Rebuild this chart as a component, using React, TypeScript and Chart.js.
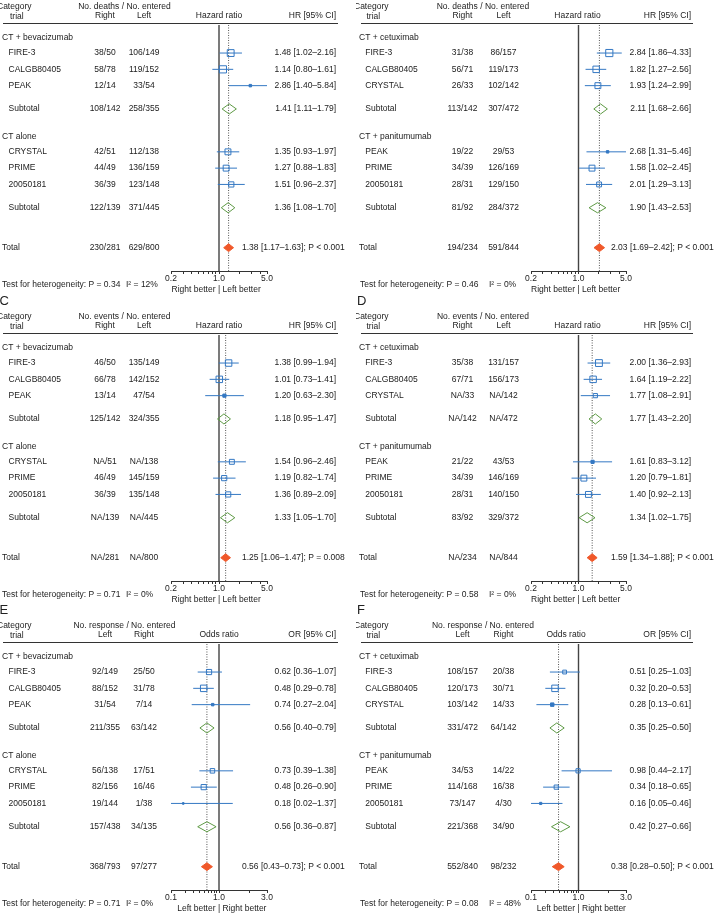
import React, { useEffect, useRef } from 'react';
import { Chart, registerables, LogarithmicScale } from 'chart.js';

Chart.register(...registerables);

// ---------- custom split-log scale (1.0 in the middle of the axis) ----------
class SplitLogScale extends (LogarithmicScale as any) {
  static id = 'splitlog';
  static defaults = {};
  getPixelForValue(value: any) {
    if (value === undefined || value === null || isNaN(value)) return NaN;
    const lmin = Math.log10(this.min);
    const lmax = Math.log10(this.max);
    const l = Math.log10(Math.max(value, 1e-6));
    const dec = l <= 0 ? (0.5 * (l - lmin)) / -lmin : 0.5 + (0.5 * l) / lmax;
    return this.getPixelForDecimal(dec);
  }
  getValueForPixel(pixel: number) {
    const dec = this.getDecimalForPixel(pixel);
    const lmin = Math.log10(this.min);
    const lmax = Math.log10(this.max);
    const l = dec <= 0.5 ? lmin * (1 - 2 * dec) : (2 * dec - 1) * lmax;
    return Math.pow(10, l);
  }
}
Chart.register(SplitLogScale as any);

// ---------------------------- DATA ----------------------------
const bevTrials = ['FIRE-3', 'CALGB80405', 'PEAK', 'CRYSTAL', 'PRIME', '20050181'];
const egfrTrials = ['FIRE-3', 'CALGB80405', 'CRYSTAL', 'PEAK', 'PRIME', '20050181'];
const bevGroups = ['CT + bevacizumab', 'CT alone'];
const egfrGroups = ['CT + cetuximab', 'CT + panitumumab'];

const hrMajorTicks = [0.2, 1, 5];
const hrMinorTicks = [0.3, 0.4, 0.5, 0.6, 0.7, 0.8, 0.9, 2, 3, 4];
const orMajorTicks = [0.1, 1, 3];
const orMinorTicks = [0.2, 0.3, 0.4, 0.5, 0.6, 0.7, 0.8, 0.9, 2];

// Panel A
const aCol1 = ['38/50', '58/78', '12/14', '42/51', '44/49', '36/39'];
const aCol2 = ['106/149', '119/152', '33/54', '112/138', '136/159', '123/148'];
const aEst = [1.48, 1.14, 2.86, 1.35, 1.27, 1.51];
const aLow = [1.02, 0.8, 1.4, 0.93, 0.88, 0.96];
const aHigh = [2.16, 1.61, 5.84, 1.97, 1.83, 2.37];
const aWeight = [11, 12, 2, 8.5, 8.5, 6.8];
const aSubCol1 = ['108/142', '122/139'];
const aSubCol2 = ['258/355', '371/445'];
const aSubEst = [1.41, 1.36];
const aSubLow = [1.11, 1.08];
const aSubHigh = [1.79, 1.7];
const aTotal = [1.38, 1.17, 1.63];
const aTotalCounts = ['230/281', '629/800'];
const aTotalP = 'P < 0.001';
const aHet = [0.34, 12];

// Panel B
const bCol1 = ['31/38', '56/71', '26/33', '19/22', '34/39', '28/31'];
const bCol2 = ['86/157', '119/173', '102/142', '29/53', '126/169', '129/150'];
const bEst = [2.84, 1.82, 1.93, 2.68, 1.58, 2.01];
const bLow = [1.86, 1.27, 1.24, 1.31, 1.02, 1.29];
const bHigh = [4.33, 2.56, 2.99, 5.46, 2.45, 3.13];
const bWeight = [12, 10, 8.5, 2, 8.5, 6.1];
const bSubCol1 = ['113/142', '81/92'];
const bSubCol2 = ['307/472', '284/372'];
const bSubEst = [2.11, 1.9];
const bSubLow = [1.68, 1.43];
const bSubHigh = [2.66, 2.53];
const bTotal = [2.03, 1.69, 2.42];
const bTotalCounts = ['194/234', '591/844'];
const bTotalP = 'P < 0.001';
const bHet = [0.46, 0];

// Panel C
const cCol1 = ['46/50', '66/78', '13/14', 'NA/51', '46/49', '36/39'];
const cCol2 = ['135/149', '142/152', '47/54', 'NA/138', '145/159', '135/148'];
const cEst = [1.38, 1.01, 1.2, 1.54, 1.19, 1.36];
const cLow = [0.99, 0.73, 0.63, 0.96, 0.82, 0.89];
const cHigh = [1.94, 1.41, 2.3, 2.46, 1.74, 2.09];
const cWeight = [10, 10, 3, 6.2, 6.8, 6.8];
const cSubCol1 = ['125/142', 'NA/139'];
const cSubCol2 = ['324/355', 'NA/445'];
const cSubEst = [1.18, 1.33];
const cSubLow = [0.95, 1.05];
const cSubHigh = [1.47, 1.7];
const cTotal = [1.25, 1.06, 1.47];
const cTotalCounts = ['NA/281', 'NA/800'];
const cTotalP = 'P = 0.008';
const cHet = [0.71, 0];

// Panel D
const dCol1 = ['35/38', '67/71', 'NA/33', '21/22', '34/39', '28/31'];
const dCol2 = ['131/157', '156/173', 'NA/142', '43/53', '146/169', '140/150'];
const dEst = [2.0, 1.64, 1.77, 1.61, 1.2, 1.4];
const dLow = [1.36, 1.19, 1.08, 0.83, 0.79, 0.92];
const dHigh = [2.93, 2.22, 2.91, 3.12, 1.81, 2.13];
const dWeight = [11, 10, 4.7, 3, 8.5, 8.5];
const dSubCol1 = ['NA/142', '83/92'];
const dSubCol2 = ['NA/472', '329/372'];
const dSubEst = [1.77, 1.34];
const dSubLow = [1.43, 1.02];
const dSubHigh = [2.2, 1.75];
const dTotal = [1.59, 1.34, 1.88];
const dTotalCounts = ['NA/234', 'NA/844'];
const dTotalP = 'P < 0.001';
const dHet = [0.58, 0];

// Panel E
const eCol1 = ['92/149', '88/152', '31/54', '56/138', '82/156', '19/144'];
const eCol2 = ['25/50', '31/78', '7/14', '17/51', '16/46', '1/38'];
const eEst = [0.62, 0.48, 0.74, 0.73, 0.48, 0.18];
const eLow = [0.36, 0.29, 0.27, 0.39, 0.26, 0.02];
const eHigh = [1.07, 0.78, 2.04, 1.38, 0.9, 1.37];
const eWeight = [6.8, 10, 2, 5.3, 6.8, 1.1];
const eSubCol1 = ['211/355', '157/438'];
const eSubCol2 = ['63/142', '34/135'];
const eSubEst = [0.56, 0.56];
const eSubLow = [0.4, 0.36];
const eSubHigh = [0.79, 0.87];
const eTotal = [0.56, 0.43, 0.73];
const eTotalCounts = ['368/793', '97/277'];
const eTotalP = 'P < 0.001';
const eHet = [0.71, 0];

// Panel F
const fCol1 = ['108/157', '120/173', '103/142', '34/53', '114/168', '73/147'];
const fCol2 = ['20/38', '30/71', '14/33', '14/22', '16/38', '4/30'];
const fEst = [0.51, 0.32, 0.28, 0.98, 0.34, 0.16];
const fLow = [0.25, 0.2, 0.13, 0.44, 0.18, 0.05];
const fHigh = [1.03, 0.53, 0.61, 2.17, 0.65, 0.46];
const fWeight = [4, 10, 3.4, 4.7, 4.7, 1.7];
const fSubCol1 = ['331/472', '221/368'];
const fSubCol2 = ['64/142', '34/90'];
const fSubEst = [0.35, 0.42];
const fSubLow = [0.25, 0.27];
const fSubHigh = [0.5, 0.66];
const fTotal = [0.38, 0.28, 0.5];
const fTotalCounts = ['552/840', '98/232'];
const fTotalP = 'P < 0.001';
const fHet = [0.08, 48];

// ---------------------------- STYLE / LAYOUT ----------------------------
const FONT_FAMILY = '"Liberation Sans", Arial, Helvetica, sans-serif';
const FS = 8.5;
const TEXT = '#222222';
const BLUE = '#3478c3';
const GREEN = '#5e9a45';
const ORANGE = '#f0582a';
const AXIS = '#333333';

const CANVAS_H = 312;
const PANEL_TOPS = [-16, 294, 603];
const GEOS = [
  { x: 0, w: 357, plotL: 171, plotR: 267, catX: -3, trialHX: 10, groupX: 2, trialX: 8.5, c1: 105, c2: 144, hrRight: 336, ruleL: 3, ruleR: 338, totalTextX: 242, hetX: 2, i2X: 126, letterX: -0.5 },
  { x: 356, w: 362, plotL: 175, plotR: 270, catX: -2, trialHX: 10.5, groupX: 3, trialX: 9.3, c1: 106.5, c2: 147.5, hrRight: 335, ruleL: 5, ruleR: 337, totalTextX: 255, hetX: 4, i2X: 133, letterX: 1 },
];

const ROW = { head: 0.79, toTrial: 0.93, step: 1, toSub: 1.43, toNextGroup: 1.7, toTotal: 2.45, toAxis: 1.43 };

function layoutRows(nGroups: number, perGroup: number) {
  const groups: number[] = [];
  const trials: number[] = [];
  const subs: number[] = [];
  let y = ROW.head;
  for (let g = 0; g < nGroups; g++) {
    groups.push(y);
    y += ROW.toTrial;
    for (let t = 0; t < perGroup; t++) {
      trials.push(y);
      if (t < perGroup - 1) y += ROW.step;
    }
    y += ROW.toSub;
    subs.push(y);
    if (g < nGroups - 1) y += ROW.toNextGroup;
  }
  const total = y + ROW.toTotal;
  return { groups, trials, subs, total, max: total + ROW.toAxis };
}

const HR_HEAD = { measure: 'Hazard ratio', ci: 'HR [95% CI]', foot: ['Right better', 'Left better'], majors: hrMajorTicks, minors: hrMinorTicks };
const OR_HEAD = { measure: 'Odds ratio', ci: 'OR [95% CI]', foot: ['Left better', 'Right better'], majors: orMajorTicks, minors: orMinorTicks };

const panels = [
  { letter: 'A', row: 0, col: 0, head: HR_HEAD, countHead: 'No. deaths / No. entered', colHeads: ['Right', 'Left'], groups: bevGroups, trials: bevTrials, c1: aCol1, c2: aCol2, est: aEst, lo: aLow, hi: aHigh, w: aWeight, sc1: aSubCol1, sc2: aSubCol2, sEst: aSubEst, sLo: aSubLow, sHi: aSubHigh, total: aTotal, tc: aTotalCounts, tp: aTotalP, het: aHet, headShift: 0 },
  { letter: 'B', row: 0, col: 1, head: HR_HEAD, countHead: 'No. deaths / No. entered', colHeads: ['Right', 'Left'], groups: egfrGroups, trials: egfrTrials, c1: bCol1, c2: bCol2, est: bEst, lo: bLow, hi: bHigh, w: bWeight, sc1: bSubCol1, sc2: bSubCol2, sEst: bSubEst, sLo: bSubLow, sHi: bSubHigh, total: bTotal, tc: bTotalCounts, tp: bTotalP, het: bHet, headShift: -1 },
  { letter: 'C', row: 1, col: 0, head: HR_HEAD, countHead: 'No. events / No. entered', colHeads: ['Right', 'Left'], groups: bevGroups, trials: bevTrials, c1: cCol1, c2: cCol2, est: cEst, lo: cLow, hi: cHigh, w: cWeight, sc1: cSubCol1, sc2: cSubCol2, sEst: cSubEst, sLo: cSubLow, sHi: cSubHigh, total: cTotal, tc: cTotalCounts, tp: cTotalP, het: cHet, headShift: 0 },
  { letter: 'D', row: 1, col: 1, head: HR_HEAD, countHead: 'No. events / No. entered', colHeads: ['Right', 'Left'], groups: egfrGroups, trials: egfrTrials, c1: dCol1, c2: dCol2, est: dEst, lo: dLow, hi: dHigh, w: dWeight, sc1: dSubCol1, sc2: dSubCol2, sEst: dSubEst, sLo: dSubLow, sHi: dSubHigh, total: dTotal, tc: dTotalCounts, tp: dTotalP, het: dHet, headShift: -1 },
  { letter: 'E', row: 2, col: 0, head: OR_HEAD, countHead: 'No. response / No. entered', colHeads: ['Left', 'Right'], groups: bevGroups, trials: bevTrials, c1: eCol1, c2: eCol2, est: eEst, lo: eLow, hi: eHigh, w: eWeight, sc1: eSubCol1, sc2: eSubCol2, sEst: eSubEst, sLo: eSubLow, sHi: eSubHigh, total: eTotal, tc: eTotalCounts, tp: eTotalP, het: eHet, headShift: 0 },
  { letter: 'F', row: 2, col: 1, head: OR_HEAD, countHead: 'No. response / No. entered', colHeads: ['Left', 'Right'], groups: egfrGroups, trials: egfrTrials, c1: fCol1, c2: fCol2, est: fEst, lo: fLow, hi: fHigh, w: fWeight, sc1: fSubCol1, sc2: fSubCol2, sEst: fSubEst, sLo: fSubLow, sHi: fSubHigh, total: fTotal, tc: fTotalCounts, tp: fTotalP, het: fHet, headShift: -12.5 },
];

const ciText = (e: number, l: number, h: number) => `${e.toFixed(2)} [${l.toFixed(2)}\u2013${h.toFixed(2)}]`;
const font = (s: number = FS) => `${s}px ${FONT_FAMILY}`;

function makeTextPlugin(p: any, geo: any, rows: any) {
  return {
    id: 'forestText',
    afterDraw(chart: any) {
      const ctx = chart.ctx as CanvasRenderingContext2D;
      const xs = chart.scales.x;
      const ys = chart.scales.y;
      const put = (t: string, px: number, py: number, align: CanvasTextAlign = 'left') => {
        ctx.textAlign = align;
        ctx.fillText(t, px, py);
      };
      ctx.save();
      ctx.fillStyle = TEXT;
      ctx.textBaseline = 'middle';
      ctx.font = font(13);
      put(p.letter, geo.letterX, 7);
      ctx.font = font();
      const xOne = xs.getPixelForValue(1);
      // header
      put('Category', geo.catX, 22.7);
      put('trial', geo.trialHX, 32.7);
      put(p.countHead, (geo.c1 + geo.c2) / 2, 22.7, 'center');
      put(p.colHeads[0], geo.c1, 31.7, 'center');
      put(p.colHeads[1], geo.c2, 31.7, 'center');
      put(p.head.measure, xOne + p.headShift, 31.7, 'center');
      put(p.head.ci, geo.hrRight, 31.7, 'right');
      ctx.strokeStyle = AXIS;
      ctx.lineWidth = 1;
      ctx.beginPath();
      ctx.moveTo(geo.ruleL, 39.5);
      ctx.lineTo(geo.ruleR, 39.5);
      ctx.stroke();
      // groups
      rows.groups.forEach((gy: number, gi: number) => put(p.groups[gi], geo.groupX, ys.getPixelForValue(gy)));
      // trials
      rows.trials.forEach((ty: number, i: number) => {
        const py = ys.getPixelForValue(ty);
        put(p.trials[i], geo.trialX, py);
        put(p.c1[i], geo.c1, py, 'center');
        put(p.c2[i], geo.c2, py, 'center');
        put(ciText(p.est[i], p.lo[i], p.hi[i]), geo.hrRight, py, 'right');
      });
      // subtotals
      rows.subs.forEach((sy: number, i: number) => {
        const py = ys.getPixelForValue(sy);
        put('Subtotal', geo.trialX, py);
        put(p.sc1[i], geo.c1, py, 'center');
        put(p.sc2[i], geo.c2, py, 'center');
        put(ciText(p.sEst[i], p.sLo[i], p.sHi[i]), geo.hrRight, py, 'right');
      });
      // total
      const tpy = ys.getPixelForValue(rows.total);
      put('Total', geo.groupX, tpy);
      put(p.tc[0], geo.c1, tpy, 'center');
      put(p.tc[1], geo.c2, tpy, 'center');
      put(`${ciText(p.total[0], p.total[1], p.total[2])}; ${p.tp}`, geo.totalTextX, tpy);
      // heterogeneity
      put(`Test for heterogeneity: P = ${p.het[0].toFixed(2)}`, geo.hetX, 300.5);
      put(`I\u00B2 = ${p.het[1]}%`, geo.i2X, 300.5);
      // footer
      put(p.head.foot[0], xOne - 3.5, 306, 'right');
      put('|', xOne, 306, 'center');
      put(p.head.foot[1], xOne + 3.5, 306, 'left');
      ctx.restore();
    },
  };
}

function buildConfig(p: any) {
  const geo = GEOS[p.col];
  const rows = layoutRows(p.groups.length, p.trials.length / p.groups.length);
  const majors: number[] = p.head.majors;
  const allTicks = [...majors, ...p.head.minors].sort((a, b) => a - b);
  const datasets: any[] = [];
  // reference lines
  datasets.push({ data: [{ x: 1, y: 0 }, { x: 1, y: rows.max }], borderColor: '#444444', borderWidth: 1.4, pointRadius: 0, order: 30 });
  datasets.push({ data: [{ x: p.total[0], y: 0 }, { x: p.total[0], y: rows.max }], borderColor: '#555555', borderWidth: 1, borderDash: [1, 1.5], pointRadius: 0, order: 29 });
  // CI lines
  rows.trials.forEach((ty: number, i: number) => {
    datasets.push({ data: [{ x: p.lo[i], y: ty }, { x: p.hi[i], y: ty }], borderColor: BLUE, borderWidth: 1, pointRadius: 0, order: 20 });
  });
  // boxes
  const sides = p.w.map((w: number) => 2.3 * Math.sqrt(w) - 0.8);
  datasets.push({
    data: rows.trials.map((ty: number, i: number) => ({ x: p.est[i], y: ty })),
    showLine: false,
    pointStyle: 'rect',
    pointRadius: (c: any) => Math.max(sides[c.dataIndex], 1.6) * Math.SQRT1_2,
    pointBackgroundColor: (c: any) => (sides[c.dataIndex] < 3.6 ? BLUE : 'rgba(255,255,255,0)'),
    pointBorderColor: BLUE,
    pointBorderWidth: 1,
    order: 10,
  });
  // subtotal diamonds
  const sh = 0.31;
  rows.subs.forEach((sy: number, i: number) => {
    datasets.push({
      data: [
        { x: p.sLo[i], y: sy },
        { x: p.sEst[i], y: sy - sh },
        { x: p.sHi[i], y: sy },
        { x: p.sEst[i], y: sy + sh },
        { x: p.sLo[i], y: sy },
      ],
      borderColor: GREEN,
      borderWidth: 1,
      fill: false,
      tension: 0,
      borderJoinStyle: 'miter',
      pointRadius: 0,
      order: 5,
    });
  });
  // total diamond
  const th = 0.24;
  datasets.push({
    data: [
      { x: p.total[1], y: rows.total },
      { x: p.total[0], y: rows.total - th },
      { x: p.total[2], y: rows.total },
      { x: p.total[0], y: rows.total + th },
      { x: p.total[1], y: rows.total },
    ],
    borderColor: ORANGE,
    backgroundColor: ORANGE,
    borderWidth: 1,
    fill: 'shape',
    tension: 0,
    borderJoinStyle: 'miter',
    pointRadius: 0,
    order: 2,
  });

  return {
    type: 'line',
    data: { datasets },
    options: {
      responsive: false,
      animation: false,
      events: [],
      layout: { padding: { left: geo.plotL, right: geo.w - geo.plotR, top: 41, bottom: 5 } },
      plugins: { legend: { display: false }, tooltip: { enabled: false } },
      scales: {
        x: {
          type: 'splitlog',
          min: majors[0],
          max: majors[majors.length - 1],
          afterBuildTicks: (s: any) => {
            s.ticks = allTicks.map((v) => ({ value: v }));
          },
          afterFit: (s: any) => {
            s.height = 20;
          },
          ticks: {
            autoSkip: false,
            maxRotation: 0,
            minRotation: 0,
            padding: 0,
            color: TEXT,
            font: { family: FONT_FAMILY, size: FS, lineHeight: 1 },
            callback: (v: any) => (majors.indexOf(Number(v)) >= 0 ? Number(v).toFixed(1) : ''),
          },
          grid: { display: true, drawOnChartArea: false, drawTicks: true, tickLength: 3, color: AXIS, lineWidth: 1 },
          border: { display: true, color: AXIS, width: 1 },
        },
        y: { type: 'linear', display: false, reverse: true, min: 0, max: rows.max },
      },
    },
    plugins: [makeTextPlugin(p, geo, rows)],
  };
}

function ForestPanel({ p }: { p: any }) {
  const ref = useRef<HTMLCanvasElement>(null);
  const geo = GEOS[p.col];
  useEffect(() => {
    const chart = new Chart(ref.current as HTMLCanvasElement, buildConfig(p) as any);
    return () => chart.destroy();
  }, [p]);
  return (
    <canvas
      ref={ref}
      width={geo.w}
      height={CANVAS_H}
      style={{ position: 'absolute', left: geo.x, top: PANEL_TOPS[p.row], width: geo.w, height: CANVAS_H, display: 'block' }}
    />
  );
}

export default function App() {
  return (
    <div style={{ position: 'fixed', left: 0, top: 0, width: 718, height: 915, overflow: 'hidden', background: '#ffffff' }}>
      {panels.map((p) => (
        <ForestPanel key={p.letter} p={p} />
      ))}
    </div>
  );
}
